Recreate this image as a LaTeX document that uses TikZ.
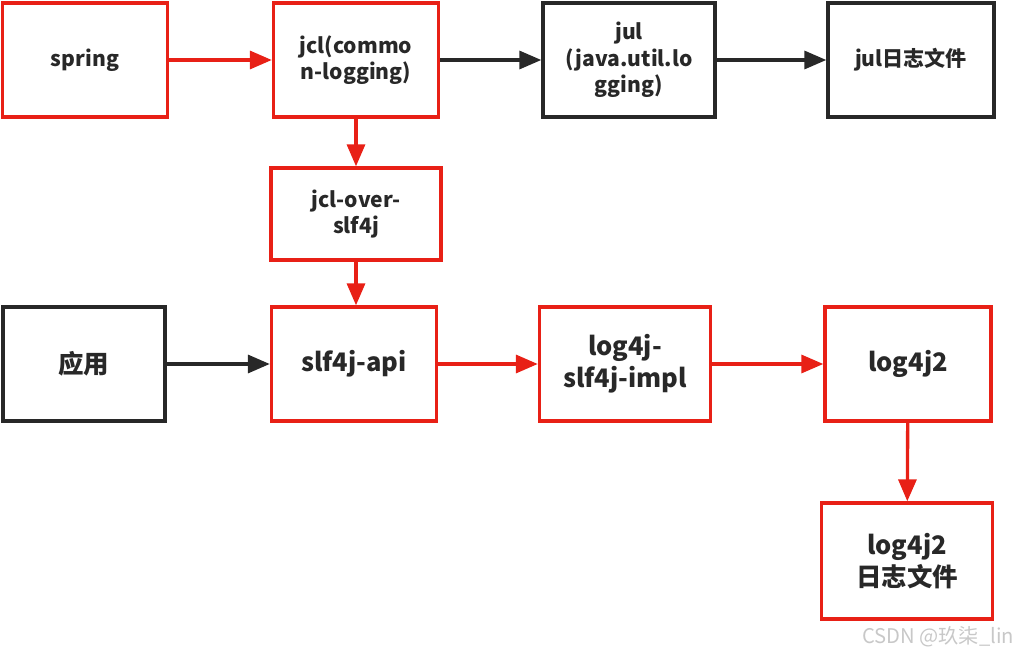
\documentclass[tikz,border=0pt]{standalone}
\usepackage{fontspec}
\setmainfont{Noto Sans CJK SC}
\usepackage{xcolor}
\usepackage{tikz}
\usetikzlibrary{arrows.meta}
\definecolor{FlowRed}{RGB}{232,32,22}
\definecolor{FlowBlack}{RGB}{40,40,40}
\definecolor{MarkGray}{RGB}{200,200,200}

\begin{document}
\begin{tikzpicture}[
box/.style={
draw=FlowBlack,
line width=1.9pt,
fill=white,
minimum width=3.3cm,
minimum height=2.28cm,
align=center,
text=FlowBlack,
font=\fontsize{12}{15}\selectfont\bfseries
},
redbox/.style={box,draw=FlowRed},
big/.style={font=\fontsize{14.5}{18}\selectfont\bfseries},
link/.style={line width=1.9pt,draw=FlowBlack,-{Triangle[length=0.44cm,width=0.36cm]}},
redlink/.style={link,draw=FlowRed,fill=FlowRed}
]
\useasboundingbox (0,0) rectangle (20.26,-13.08);

% top row
\node[redbox] (spring) at (1.70,-1.20) {spring};
\node[redbox] (jcl) at (7.12,-1.20) {jcl(commo\\n-logging)};
\node[box,minimum width=3.44cm] (jul) at (12.58,-1.20) {jul\\(java.util.lo\\gging)};
\node[box,minimum width=3.32cm] (julfile) at (18.22,-1.20) {jul日志文件};

\node[redbox,minimum width=3.4cm,minimum height=1.84cm] (jclover) at (7.12,-4.28) {jcl-over-\\slf4j};

% middle row
\node[box,big,minimum width=3.24cm] (app) at (1.68,-7.28) {应用};
\node[redbox,big] (api) at (7.08,-7.28) {slf4j-api};
\node[redbox,big,minimum width=3.42cm] (impl) at (12.50,-7.28) {log4j-\\slf4j-impl};
\node[redbox,big,minimum width=3.32cm] (log4j2) at (18.16,-7.28) {log4j2};

\node[redbox,big,minimum width=3.42cm,minimum height=2.32cm] (log4j2file) at (18.14,-11.22) {log4j2\\日志文件};

\draw[redlink] (spring) -- (jcl);
\draw[link] (jcl) -- (jul);
\draw[link] (jul) -- (julfile);
\draw[redlink] (jcl) -- (jclover);
\draw[redlink] (jclover.south) -- (jclover.south |- api.north);
\draw[link] (app) -- (api);
\draw[redlink] (api) -- (impl);
\draw[redlink] (impl) -- (log4j2);
\draw[redlink] (log4j2) -- (log4j2file);

\node[text=MarkGray,font=\fontsize{11.5}{14}\selectfont] (mark) at (18.76,-12.74) {CSDN @玖柒\_lin};

\end{tikzpicture}
\end{document}
